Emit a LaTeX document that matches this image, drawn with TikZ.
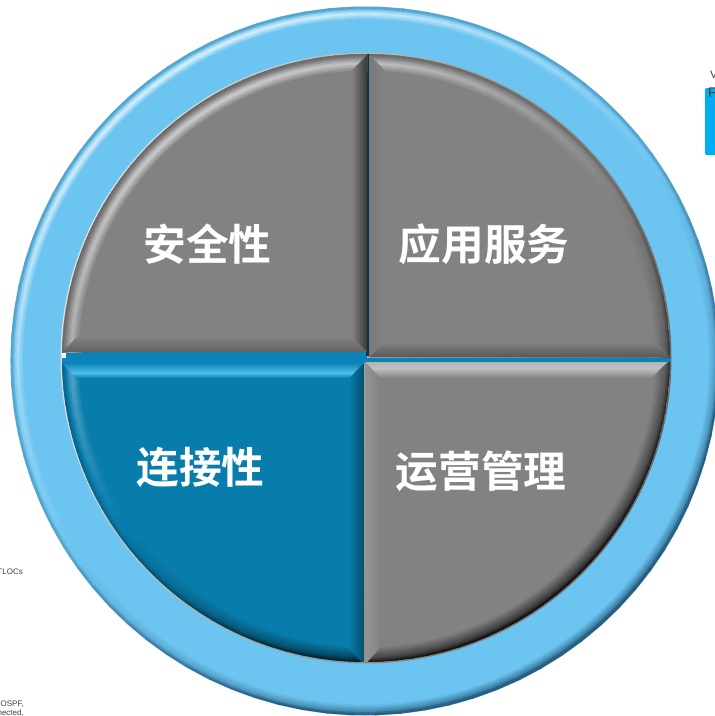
\documentclass[tikz,border=0pt]{standalone}
\usepackage{fontspec}
\setmainfont{Liberation Sans}
\newfontfamily\cjk{Noto Sans CJK SC}[BoldFont={Noto Sans CJK SC Bold}]
\definecolor{basegray}{HTML}{828282}
\definecolor{baseblue}{HTML}{087CAB}
\definecolor{ringblue}{HTML}{6CC4F0}
\definecolor{ringedge}{HTML}{24597A}
\definecolor{stripblue}{HTML}{0A84B8}
\definecolor{cornerblue}{HTML}{00AEEF}
\definecolor{brightblue}{HTML}{4FC0F0}
\tikzset{
  seglabel/.style={font=\cjk\bfseries\fontsize{42.7}{42.7}\selectfont,text=white,inner sep=0pt},
  straytext/.style={font=\fontsize{8}{8}\selectfont,text=black!75,inner sep=0pt,anchor=west},
}
% arc bevel: centre x, y, radius, first angle, second angle, last angle, base colour
\newcommand{\arcbevel}[7]{%
  \foreach \dd in {18.5,17,...,0.5}{%
    \pgfmathsetmacro\rr{#3-\dd}%
    \pgfmathsetmacro\bump{max(0,min((\dd-3)/6,(17-\dd)/8))}%
    \foreach \aa in {#4,#5,...,#6}{%
      \pgfmathsetmacro\aend{\aa+3.4}%
      \pgfmathsetmacro\lite{cos(\aa+125)}%
      \pgfmathsetmacro\amt{(\lite>0?0.62*\lite*\bump:0.72*\lite*max(0,1-\dd/15))-0.2*max(0,1-\dd/4)}%
      \pgfmathsetmacro\mixc{min(95,abs(\amt)*100)}%
      \edef\other{\ifdim\amt pt<0pt black\else white\fi}%
      \draw[line width=1.9pt,color=\other!\mixc!#7] ([shift={(\aa:\rr)}]#1,#2) -- ([shift={(\aend:\rr)}]#1,#2);
    }%
  }%
}
\begin{document}
\begin{tikzpicture}[x=1pt,y=-1pt]
\useasboundingbox (0,0) rectangle (715,716);
\clip (0,0) rectangle (715,716);
\fill[white] (0,0) rectangle (715,716);
% stray fragments at the page edges
\fill[cornerblue,rounded corners=1.5pt] (705,88) rectangle (720,155);
\node[straytext,font=\fontsize{11}{11}\selectfont] (strayV) at (710,75) {V};
\node[straytext,font=\fontsize{14}{14}\selectfont] (strayF) at (708,93) {F};
\node[straytext,anchor=east] (strayA) at (23,572) {TLOCs};
\node[straytext,anchor=east] (strayB) at (24,704) {, OSPF,};
\node[straytext,anchor=east] (strayC) at (24,713) {nected,};
% outer ring
\fill[ringblue] (365,361) circle[radius=354.5pt];
\foreach \dd in {13,11.5,...,0.5}{%
  \pgfmathsetmacro\rr{354.5-\dd}%
  \pgfmathsetmacro\bump{max(0,min((\dd-2)/5,(13-\dd)/6))}%
  \foreach \aa in {0,4,...,356}{%
    \pgfmathsetmacro\aend{\aa+4.4}%
    \pgfmathsetmacro\lite{cos(\aa+125)}%
    \pgfmathsetmacro\edgekeep{100-min(95,100*((\lite<0?-\lite*max(0,1-\dd/11):0)+0.42*max(0,1-\dd/4)))}%
    \pgfmathsetmacro\whmix{\lite>0?75*\lite*\bump:0}%
    \draw[line width=1.9pt,color=white!\whmix!ringblue!\edgekeep!ringedge] ([shift={(\aa:\rr)}]365,361) -- ([shift={(\aend:\rr)}]365,361);
  }%
}
% inner rim and dividers
\shade[left color=black!12,right color=black!60,shading angle=70] (366,358) circle[radius=305.5pt];
\begin{scope}
  \clip (366,358) circle[radius=304pt];
  \fill[stripblue] (60,352) rectangle (367,363);
  \fill[stripblue] (365,358) rectangle (680,362);
  \fill[black!60!stripblue] (366,40) rectangle (369.5,356);
  \fill[white] (60,352) rectangle (66,358);
  % top left
  \begin{scope}
    \clip (40,30) rectangle (367,352);
    \fill[basegray] (40,30) rectangle (367,352);
    \arcbevel{366}{358}{304}{-183}{-180}{-87}{basegray}
    \shade[left color=basegray,right color=black!78] (352,70) -- (367,55) -- (367,352) -- (352,337) -- cycle;
    \shade[top color=basegray,bottom color=black!62] (62,352) -- (77,337) -- (352,337) -- (367,352) -- cycle;
  \end{scope}
  % top right
  \begin{scope}
    \clip (369.5,30) rectangle (690,357);
    \fill[basegray] (369.5,30) rectangle (690,357);
    \arcbevel{366}{358}{304}{-93}{-90}{3}{basegray}
    \shade[left color=black!52,right color=basegray] (369.5,55) -- (384.5,70) -- (384.5,342) -- (369.5,357) -- cycle;
    \shade[top color=basegray,bottom color=black!65] (369.5,357) -- (384.5,342) -- (656,342) -- (670,357) -- cycle;
  \end{scope}
  % bottom left
  \begin{scope}
    \clip (40,363) rectangle (363.5,680);
    \fill[baseblue] (40,363) rectangle (363.5,680);
    \arcbevel{366}{358}{304}{87}{90}{183}{baseblue}
    \shade[left color=baseblue,right color=black!35!baseblue] (349,378) -- (363.5,363) -- (363.5,664) -- (349,648) -- cycle;
    \shade[top color=stripblue,bottom color=brightblue] (62,363) -- (72,373) -- (354,373) -- (363.5,363) -- cycle;
    \shade[top color=brightblue,bottom color=baseblue] (72,373) -- (77,378) -- (349,378) -- (354,373) -- cycle;
  \end{scope}
  % bottom right
  \begin{scope}
    \clip (365.5,362) rectangle (690,680);
    \fill[basegray] (365.5,362) rectangle (690,680);
    \arcbevel{366}{358}{304}{-3}{0}{93}{basegray}
    \shade[left color=black!42,right color=basegray] (365.5,362) -- (380,378) -- (380,648) -- (365.5,664) -- cycle;
    \shade[top color=black!30,bottom color=white!50!basegray] (365.5,362) -- (371,368) -- (661,368) -- (668,362) -- cycle;
    \shade[top color=white!50!basegray,bottom color=basegray] (371,368) -- (380,378) -- (652,378) -- (661,368) -- cycle;
  \end{scope}
\end{scope}
% labels
\node[seglabel] (sec) at (207.5,244) {安全性};
\node[seglabel] (app) at (484,244) {应用服务};
\node[seglabel] (con) at (200.5,467) {连接性};
\node[seglabel] (ops) at (481,471) {运营管理};
\end{tikzpicture}
\end{document}
